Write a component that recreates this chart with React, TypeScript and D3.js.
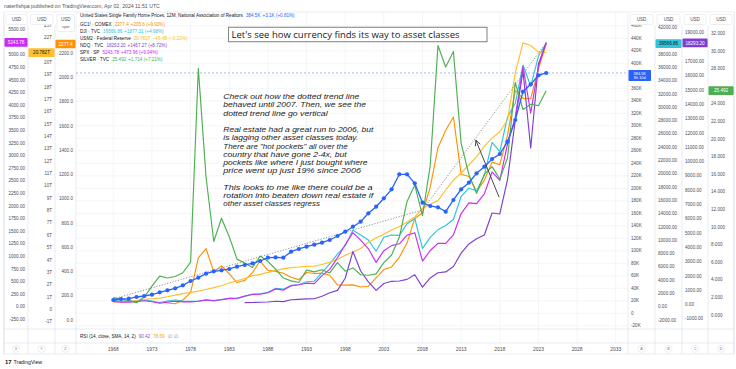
import React from "react";
import * as d3 from "d3";

// ---------- DATA ----------
const years = d3.range(1968, 2025); // 12M bars, 1968 .. 2024

// US single family home prices (thousand USD), 1968-2024
const homePrices = [21.3, 22.9, 23.4, 26.1, 27.7, 29.8, 33.6, 36.8, 40.0, 44.8, 51.7, 57.0, 63.4, 67.2, 68.8, 70.9, 74.6, 77.3, 80.0, 83.7, 89.0, 89.6, 89.0, 98.6, 102.9, 106.6, 109.8, 113.0, 117.3, 123.7, 130.6, 138.6, 146.6, 160.0, 170.6, 184.0, 198.4, 222.4, 222.4, 208.0, 177.0, 171.7, 169.6, 162.6, 181.3, 198.4, 209.0, 224.0, 234.6, 246.9, 254.9, 274.6, 309.3, 354.6, 366.4, 380.8, 384.5];

// GC1! gold, 1975-2024
const goldStart = 1975;
const gold = [140.2, 134.5, 164.9, 226.0, 512.0, 589.5, 397.5, 447.0, 381.5, 309.0, 326.8, 390.9, 486.5, 410.1, 401.0, 386.2, 353.2, 333.0, 391.8, 383.3, 387.0, 369.3, 289.9, 288.3, 290.3, 272.7, 278.7, 347.6, 416.1, 438.0, 517.0, 636.7, 838.0, 884.3, 1096.2, 1421.4, 1565.8, 1675.3, 1202.3, 1184.1, 1061.1, 1152.0, 1303.1, 1281.7, 1523.1, 1895.1, 1828.6, 1826.2, 2071.8, 2277.4];

// DJI, 1968-2024
const dji = [943.75, 800.36, 838.92, 890.2, 1020.02, 850.86, 616.24, 852.41, 1004.65, 831.17, 805.01, 838.74, 963.99, 875.0, 1046.54, 1258.64, 1211.57, 1546.67, 1895.95, 1938.83, 2168.57, 2753.2, 2633.66, 3168.83, 3301.11, 3754.09, 3834.44, 5117.12, 6448.27, 7908.25, 9181.43, 11497.12, 10786.85, 10021.5, 8341.63, 10453.92, 10783.01, 10717.5, 12463.15, 13264.82, 8776.39, 10428.05, 11577.51, 12217.56, 13104.14, 16576.66, 17823.07, 17425.03, 19762.6, 24719.22, 23327.46, 28538.44, 30606.48, 36338.3, 33147.25, 37689.54, 39566.86];

// USM2 (trillion USD), 1968-2024
const m2 = [0.567, 0.588, 0.627, 0.711, 0.802, 0.856, 0.902, 1.016, 1.152, 1.271, 1.366, 1.474, 1.6, 1.755, 1.906, 2.124, 2.306, 2.492, 2.728, 2.826, 2.988, 3.152, 3.272, 3.372, 3.424, 3.474, 3.486, 3.629, 3.818, 4.033, 4.375, 4.638, 4.925, 5.433, 5.772, 6.067, 6.418, 6.681, 7.071, 7.471, 8.192, 8.496, 8.801, 9.66, 10.452, 11.035, 11.684, 12.346, 13.215, 13.862, 14.375, 15.327, 19.131, 21.572, 21.361, 20.827, 20.782];

// NDQ, 1985-2024
const ndqStart = 1985;
const ndq = [132.29, 141.41, 156.25, 177.41, 223.84, 200.53, 330.86, 360.19, 398.28, 404.27, 576.23, 821.36, 990.8, 1836.01, 3707.83, 2341.7, 1577.05, 984.36, 1467.92, 1621.12, 1645.2, 1756.9, 2084.93, 1211.65, 1860.31, 2217.86, 2277.83, 2660.93, 3592.0, 4236.28, 4593.27, 4863.62, 6396.42, 6329.96, 8733.07, 12888.28, 16320.08, 10939.76, 16825.93, 18293.2];

// SPX, 1968-2024
const spx = [103.86, 92.06, 92.15, 102.09, 118.05, 97.55, 68.56, 90.19, 107.46, 95.1, 96.11, 107.94, 135.76, 122.55, 140.64, 164.93, 167.24, 211.28, 242.17, 247.08, 277.72, 353.4, 330.22, 417.09, 435.71, 466.45, 459.27, 615.93, 740.74, 970.43, 1229.23, 1469.25, 1320.28, 1148.08, 879.82, 1111.92, 1211.92, 1248.29, 1418.3, 1468.36, 903.25, 1115.1, 1257.64, 1257.6, 1426.19, 1848.36, 2058.9, 2043.94, 2238.83, 2673.61, 2506.85, 3230.78, 3756.07, 4766.18, 3839.5, 4769.83, 5243.78];

// SILVER, 1968-2024
const silver = [1.97, 1.8, 1.64, 1.39, 2.04, 3.28, 4.42, 4.21, 4.37, 4.8, 6.0, 28.0, 15.65, 8.35, 11.0, 8.9, 6.35, 5.9, 5.4, 6.7, 6.1, 5.2, 4.2, 3.88, 3.7, 5.1, 4.9, 5.15, 4.78, 5.95, 4.98, 5.35, 4.57, 4.52, 4.67, 5.96, 6.82, 8.83, 12.9, 14.76, 11.3, 16.99, 30.63, 28.18, 29.95, 19.5, 15.97, 13.82, 15.99, 16.86, 15.46, 17.85, 26.4, 23.35, 23.95, 23.79, 25.49];

// dotted trend line (year, home price K)
const trendYears = [1968, 2008, 2024];
const trendValues = [22.9, 165.3, 433];

// arrow (year, home price K): tail -> head
const arrowYears = [2017.9, 2014.9];
const arrowValues = [186, 277];

// tick labels
const timeTicks = [1968, 1973, 1978, 1983, 1988, 1993, 1998, 2003, 2008, 2013, 2018, 2023, 2028, 2033];
const ticksA = d3.range(-20, 461, 20);
const ticksB = d3.range(-2000, 42001, 2000);
const ticksC = d3.range(-1000, 19001, 1000);
const ticksD = d3.range(0, 33, 2);
const ticksX = d3.range(-250, 5501, 250);
const ticksY = d3.range(-1, 24, 1);
const ticksZ = d3.range(0, 2201, 200);

const noteLines = [
  "Check out how the dotted trend line",
  "behaved until 2007.  Then, we see the",
  "dotted trend line go vertical",
  "",
  "Real estate had a great run to 2006, but",
  "is lagging other asset classes today.",
  "There are \"hot pockets\" all over the",
  "country that have gone 2-4x, but",
  "pockets like where I just bought where",
  "price went up just 19% since 2006",
  "",
  "This looks to me like there could be a",
  "rotation into beaten down real estate if",
  "other asset classes regress",
];
const noteWidths = [136, 142.7, 104.3, 0, 150, 135, 124.3, 123.3, 144.3, 137.7, 0, 149.3, 150, 96.7];

const C_HOME = "#2962ff";
const C_GOLD = "#ff9100";
const C_DJI = "#2ec4d9";
const C_M2 = "#ffbf2e";
const C_NDQ = "#7e3fd0";
const C_SPX = "#c92cf2";
const C_SILVER = "#4caf50";

const FONT = "'Liberation Sans', Arial, sans-serif";

export default function App() {
  const W = 736, H = 369;
  const L = 76, R = 628, TOP = 12, MAINB = 329, RSIB = 343, AXB = 354;
  const leftSeps = [4, 28, 55, 76];
  const rightSeps = [628, 655, 682, 708, 734];

  const x = d3.scaleLinear().domain([1968, 2033]).range([113.3, 615.75]);
  const yA = d3.scaleLinear().domain([0, 400]).range([313.3, 63.3]);
  const yB = d3.scaleLinear().domain([0, 40000]).range([306.7, 40.7]);
  const yC = d3.scaleLinear().domain([0, 19000]).range([304.5, 32.8]);
  const yD = d3.scaleLinear().domain([0, 32]).range([315, 33.4]);
  const yX = d3.scaleLinear().domain([0, 5500]).range([306.7, 29.5]);
  const yY = d3.scaleLinear().domain([0, 22]).range([309.3, 37.6]);
  const yZ = d3.scaleLinear().domain([0, 2200]).range([320, 53.4]);

  const mk = (vals: number[], start: number, ys: d3.ScaleLinear<number, number>) =>
    d3.line<number>().x((_, i) => x(start + i)).y((v) => ys(v))(vals) || "";

  const series = [
    { d: mk(gold, goldStart, yZ), c: C_GOLD },
    { d: mk(dji, 1968, yB), c: C_DJI },
    { d: mk(m2, 1968, yY), c: C_M2 },
    { d: mk(ndq, ndqStart, yC), c: C_NDQ },
    { d: mk(spx, 1968, yX), c: C_SPX },
    { d: mk(silver, 1968, yD), c: C_SILVER },
  ];
  const homePath = mk(homePrices, 1968, yA);
  const trendPath = d3.line<number>().x((_, i) => x(trendYears[i])).y((v) => yA(v))(trendValues) || "";

  const ax1 = x(arrowYears[0]), ay1 = yA(arrowValues[0]);
  const ax2 = x(arrowYears[1]), ay2 = yA(arrowValues[1]);
  const ang = Math.atan2(ay2 - ay1, ax2 - ax1);
  const hl = 6;
  const h1 = [ax2 - hl * Math.cos(ang - 0.45), ay2 - hl * Math.sin(ang - 0.45)];
  const h2 = [ax2 - hl * Math.cos(ang + 0.45), ay2 - hl * Math.sin(ang + 0.45)];

  const lastHome = homePrices[homePrices.length - 1];

  const fs = 4.6;
  const txtCol = "#4a4e59";

  const boxA = yA(lastHome) + 2.5;
  const boxB = yB(39566.86);
  const boxC = yC(18293.2);
  const boxD = yD(25.492);
  const boxX = yX(5243.78);
  const boxY = yY(20.782);
  const boxZ = yZ(2277.4);
  const free = (y: number, yc: number, half: number) => Math.abs(y - yc) > half + 2.2;

  const leftLabel = (colRight: number, y: number, t: string, key: string) => (
    <text key={key} x={colRight - 3} y={y} dy="0.35em" textAnchor="end" fontSize={fs} fill={txtCol}>{t}</text>
  );
  const rightLabel = (colLeft: number, y: number, t: string, key: string) => (
    <text key={key} x={colLeft + 3} y={y} dy="0.35em" fontSize={fs} fill={txtCol}>{t}</text>
  );
  const valBox = (x0: number, x1: number, yc: number, h: number, fill: string, lines: string[], tc: string, key: string) => (
    <g key={key}>
      <rect x={x0} y={yc - h / 2} width={x1 - x0} height={h} fill={fill} rx={0.8} />
      {lines.map((l, i) => (
        <text key={i} x={(x0 + x1) / 2} y={yc - ((lines.length - 1) * 4.4) / 2 + i * 4.4} dy="0.35em" textAnchor="middle" fontSize={lines.length > 1 ? 3.9 : fs} fill={tc}>{l}</text>
      ))}
    </g>
  );
  const usdBox = (x0: number, x1: number, key: string, h = 10, sub?: string) => (
    <g key={key}>
      <rect x={x0} y={14.5} width={x1 - x0} height={h} rx={1.5} fill="#fff" stroke="#e0e3eb" strokeWidth={0.6} />
      <text x={(x0 + x1) / 2} y={19.5} dy="0.35em" textAnchor="middle" fontSize={fs} fill={txtCol}>USD</text>
      {sub && <text x={(x0 + x1) / 2} y={27} dy="0.35em" textAnchor="middle" fontSize={3.6} fill={txtCol}>{sub}</text>}
    </g>
  );

  const legend = [
    { name: "GC1! · COMEX", val: "2277.4", ch: "+205.6 (+9.93%)", c: C_GOLD },
    { name: "DJI · TVC", val: "39566.86", ch: "+1877.31 (+4.98%)", c: C_DJI },
    { name: "USM2 · Federal Reserve", val: "20.782T", ch: "−45.4B (−0.22%)", c: C_M2 },
    { name: "NDQ · TVC", val: "18293.20", ch: "+1467.27 (+8.72%)", c: C_NDQ },
    { name: "SPX · SP", val: "5243.78", ch: "+473.96 (+9.94%)", c: C_SPX },
    { name: "SILVER · TVC", val: "25.492", ch: "+1.714 (+7.21%)", c: C_SILVER },
  ];

  return (
    <svg width={W} height={H} viewBox={`0 0 ${W} ${H}`} style={{ position: "fixed", left: 0, top: 0, background: "#fff" }} fontFamily={FONT}>
      <rect x={0} y={0} width={W} height={H} fill="#fff" />
      {/* header */}
      <text x={4} y={7.5} fontSize={5.2} fill="#555">naterfishpa published on TradingView.com, Apr 02, 2024 11:51 UTC</text>

      {/* grid */}
      <g stroke="#f0f2f6" strokeWidth={0.8}>
        {timeTicks.map((t) => (
          <line key={"vg" + t} x1={x(t)} x2={x(t)} y1={TOP} y2={RSIB} />
        ))}
        {ticksA.map((t) => (
          <line key={"hg" + t} x1={L} x2={R} y1={yA(t)} y2={yA(t)} />
        ))}
      </g>

      {/* frame */}
      <g stroke="#e0e3eb" strokeWidth={0.7} fill="none">
        <rect x={4} y={TOP} width={730} height={AXB - TOP} />
        {leftSeps.concat(rightSeps).map((s) => (
          <line key={"s" + s} x1={s} x2={s} y1={TOP} y2={AXB} />
        ))}
        <line x1={4} x2={734} y1={MAINB} y2={MAINB} />
        <line x1={4} x2={734} y1={RSIB} y2={RSIB} />
      </g>

      {/* price line */}
      <line x1={L} x2={R} y1={yA(lastHome)} y2={yA(lastHome)} stroke="#8fa9ec" strokeWidth={0.8} strokeDasharray="2,2" />

      {/* series */}
      <g fill="none" strokeWidth={1.15} strokeLinejoin="round">
        {series.map((s, i) => (
          <path key={i} d={s.d} stroke={s.c} />
        ))}
      </g>
      <path d={trendPath} fill="none" stroke="#777" strokeWidth={0.8} strokeDasharray="1.2,1.6" />
      <path d={homePath} fill="none" stroke={C_HOME} strokeWidth={1.3} />
      {homePrices.map((v, i) => (
        <circle key={"d" + i} cx={x(1968 + i)} cy={yA(v)} r={2.1} fill={C_HOME} />
      ))}

      {/* arrow */}
      <g stroke="#333" strokeWidth={0.9} fill="none">
        <line x1={ax1} y1={ay1} x2={ax2} y2={ay2} />
        <polyline points={`${h1[0]},${h1[1]} ${ax2},${ay2} ${h2[0]},${h2[1]}`} />
      </g>

      {/* title box */}
      <rect x={228.5} y={27.3} width={258.5} height={14.4} fill="#fff" stroke="#8a8a8a" strokeWidth={1.1} />
      <text x={231.5} y={38} fontSize={9.6} fill="#222" fontFamily="'Open Sans', sans-serif" textLength={228} lengthAdjust="spacingAndGlyphs">Let's see how currency finds its way to asset classes</text>

      {/* note */}
      <g fontFamily="'Liberation Sans', Arial, sans-serif" fontStyle="italic" fontSize={7.3} fill="#222">
        {noteLines.map((l, i) =>
          l ? (
            <text key={"n" + i} x={223.3} y={99.2 + i * 8.25} textLength={noteWidths[i]} lengthAdjust="spacingAndGlyphs">{l}</text>
          ) : null
        )}
      </g>

      {/* legend */}
      <text x={80} y={17.3} fontSize={fs} fill="#131722">
        United States Single Family Home Prices, 12M, National Association of Realtors
        <tspan fill={C_HOME} dx={3}>384.5K</tspan>
        <tspan fill={C_HOME} dx={2}>+3.1K (+0.81%)</tspan>
      </text>
      {legend.map((g, i) => (
        <text key={"lg" + i} x={80} y={25.6 + i * 7} fontSize={fs} fill="#131722">
          {g.name}
          <tspan fill={g.c} dx={3}>{g.val}</tspan>
          <tspan fill={g.c} dx={2}>{g.ch}</tspan>
        </text>
      ))}

      {/* left scales */}
      {ticksX.filter((t) => free(yX(t), boxX, 4.3)).map((t) => leftLabel(28, yX(t), t.toFixed(2), "x" + t))}
      {ticksY.filter((t) => free(yY(t), boxY, 4.3)).map((t) => leftLabel(55, yY(t), t === 0 ? "0" : `${t}T`, "y" + t))}
      {ticksZ.filter((t) => free(yZ(t), boxZ, 4.3)).map((t) => leftLabel(76, yZ(t), t.toFixed(1), "z" + t))}
      {/* right scales */}
      {ticksA.filter((t) => free(yA(t), boxA, 5.5)).map((t) => rightLabel(628, yA(t), t === 0 ? "0" : `${t}K`, "a" + t))}
      {ticksB.filter((t) => free(yB(t), boxB, 4.3)).map((t) => rightLabel(655, yB(t), t.toFixed(2), "b" + t))}
      {ticksC.filter((t) => free(yC(t), boxC, 4.3)).map((t) => rightLabel(682, yC(t), t.toFixed(2), "c" + t))}
      {ticksD.filter((t) => free(yD(t), boxD, 4.3)).map((t) => rightLabel(708, yD(t), t.toFixed(3), "dd" + t))}

      {/* header unit boxes */}
      <rect x={4.4} y={12.4} width={71.2} height={12.5} fill="#fff" />
      <rect x={628.4} y={12.4} width={105.2} height={12.5} fill="#fff" />
      {usdBox(6, 27, "u1")}
      {usdBox(30.5, 53, "u2")}
      {usdBox(57, 74.5, "u3", 17, "spot")}
      {usdBox(630, 653, "u4")}
      {usdBox(657, 680, "u5")}
      {usdBox(684, 706, "u6")}
      {usdBox(710, 732, "u7")}

      {/* value boxes */}
      {valBox(4.5, 27.6, boxX, 8.6, C_SPX, ["5243.78"], "#fff", "vb1")}
      {valBox(28.5, 54.6, boxY, 8.6, C_M2, ["20.782T"], "#131722", "vb2")}
      {valBox(55.5, 75.6, boxZ, 8.6, C_GOLD, ["2277.4"], "#fff", "vb3")}
      {valBox(628.5, 651, boxA, 11, C_HOME, ["384.5K", "8h 10d"], "#fff", "vb4")}
      {valBox(655.5, 681.6, boxB, 8.6, C_DJI, ["39566.86"], "#131722", "vb5")}
      {valBox(682.5, 707.6, boxC, 8.6, C_NDQ, ["18293.20"], "#fff", "vb6")}
      {valBox(708.5, 733.6, boxD, 8.6, C_SILVER, ["25.492"], "#fff", "vb7")}

      {/* RSI pane */}
      <text x={80} y={337.5} fontSize={fs} fill="#131722">
        RSI (14, close, SMA, 14, 2)
        <tspan fill="#7e57c2" dx={3}>90.42</tspan>
        <tspan fill="#f7a600" dx={3}>78.69</tspan>
        <tspan fill="#888" dx={3}>∅</tspan>
        <tspan fill="#888" dx={2}>∅</tspan>
      </text>

      {/* time axis */}
      {timeTicks.map((t) => (
        <text key={"t" + t} x={x(t)} y={348.8} dy="0.35em" textAnchor="middle" fontSize={4.9} fill={txtCol}>{t}</text>
      ))}
      {[
        ["X", 16], ["Y", 41.5], ["Z", 65.5], ["A", 641.5], ["B", 668.5], ["C", 695], ["D", 721],
      ].map(([l, cx]) => (
        <g key={"c" + l}>
          <circle cx={cx as number} cy={348.8} r={3.6} fill="#fff" stroke="#e0e3eb" strokeWidth={0.6} />
          <text x={cx as number} y={348.8} dy="0.35em" textAnchor="middle" fontSize={3.8} fill="#777">{l}</text>
        </g>
      ))}

      {/* logo */}
      <text x={5} y={364} fontSize={6} fontWeight="bold" fill="#131722">17</text>
      <text x={13.5} y={364} fontSize={5.2} fill="#131722">TradingView</text>
    </svg>
  );
}
